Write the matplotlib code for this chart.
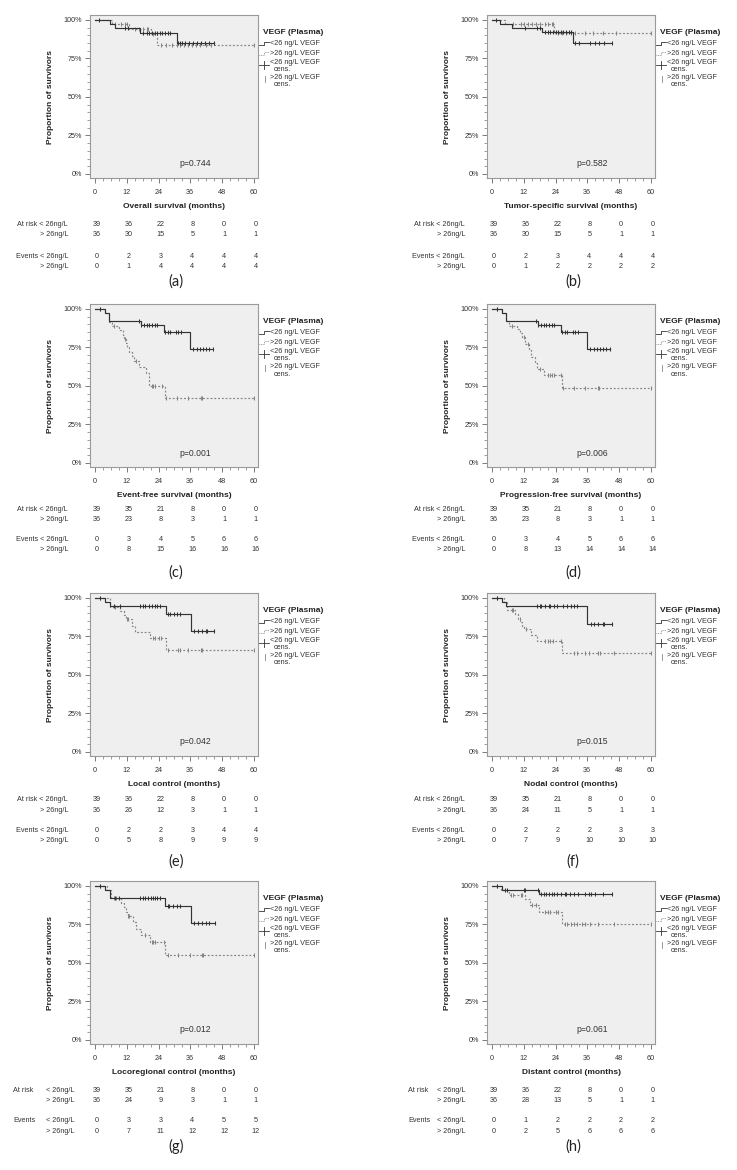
import numpy as np
import matplotlib
matplotlib.use("Agg")
import matplotlib.pyplot as plt
from matplotlib import transforms
from matplotlib.lines import Line2D
from matplotlib.ticker import MultipleLocator

plt.rcParams['font.family'] = ['Liberation Sans', 'DejaVu Sans']

# ---------------- data ----------------
months = [0, 12, 24, 36, 48, 60]
ytick_vals = [0, 25, 50, 75, 100]
ytick_labels = ['0%', '25%', '50%', '75%', '100%']

endpoints = ['Overall survival (months)', 'Tumor-specific survival (months)',
             'Event-free survival (months)', 'Progression-free survival (months)',
             'Local control (months)', 'Nodal control (months)',
             'Locoregional control (months)', 'Distant control (months)']
p_values = ['p=0.744', 'p=0.582', 'p=0.001', 'p=0.006', 'p=0.042', 'p=0.015', 'p=0.012', 'p=0.061']
panel_tags = ['(a)', '(b)', '(c)', '(d)', '(e)', '(f)', '(g)', '(h)']

# number at risk / cumulative events at 0,12,...,60 months
risk_lo = [[39, 36, 22, 8, 0, 0], [39, 36, 22, 8, 0, 0], [39, 35, 21, 8, 0, 0], [39, 35, 21, 8, 0, 0],
           [39, 36, 22, 8, 0, 0], [39, 35, 21, 8, 0, 0], [39, 35, 21, 8, 0, 0], [39, 36, 22, 8, 0, 0]]
risk_hi = [[36, 30, 15, 5, 1, 1], [36, 30, 15, 5, 1, 1], [36, 23, 8, 3, 1, 1], [36, 23, 8, 3, 1, 1],
           [36, 26, 12, 3, 1, 1], [36, 24, 11, 5, 1, 1], [36, 24, 9, 3, 1, 1], [36, 28, 13, 5, 1, 1]]
events_lo = [[0, 2, 3, 4, 4, 4], [0, 2, 3, 4, 4, 4], [0, 3, 4, 5, 6, 6], [0, 3, 4, 5, 6, 6],
             [0, 2, 2, 3, 4, 4], [0, 2, 2, 2, 3, 3], [0, 3, 3, 4, 5, 5], [0, 1, 2, 2, 2, 2]]
events_hi = [[0, 1, 4, 4, 4, 4], [0, 1, 2, 2, 2, 2], [0, 8, 15, 16, 16, 16], [0, 8, 13, 14, 14, 14],
             [0, 5, 8, 9, 9, 9], [0, 7, 9, 10, 10, 10], [0, 7, 11, 12, 12, 12], [0, 2, 5, 6, 6, 6]]

# (a) overall survival
a_lo_t = [5.7, 7.5, 17.0, 30.8]
a_lo_s = [97.4, 94.9, 91.8, 84.8]
a_lo_c = [1.6, 11.5, 12.5, 18, 19.5, 20.5, 21.5, 22.5, 23.5, 24.5, 25.5, 26.5, 27.5, 28.5,
          31.5, 32, 33, 34, 35.5, 37, 38.5, 40, 41.5, 43, 45]
a_hi_t = [6.5, 13.0, 21.0, 23.5]
a_hi_s = [97.2, 94.2, 90.9, 84.0]
a_hi_c = [7.5, 10, 11.5, 12, 15, 16.5, 18, 19.5, 20, 22, 25, 27, 29, 31, 32, 33.5, 35,
          36.5, 38, 39.5, 42, 44, 60]

# (b) tumor-specific survival
b_lo_t = [3.2, 7.6, 18.7, 30.6]
b_lo_s = [97.4, 94.9, 92.1, 85.0]
b_lo_c = [1.6, 12.5, 17, 18, 20, 21, 22, 23, 24, 25, 26, 27, 28, 29, 30, 31.3, 33, 37, 39,
          40.4, 42.3, 45.5]
b_hi_t = [5.0, 23.5]
b_hi_s = [97.2, 91.5]
b_hi_c = [8, 11, 12, 13.5, 15, 16.5, 18, 20, 21, 22.5, 23, 25, 26.5, 28, 30, 31.5, 35, 38,
          42, 47, 60]

# (c) event-free survival
c_lo_t = [3.9, 5.4, 17.3, 26.0, 36.0]
c_lo_s = [97.4, 92.3, 89.5, 84.8, 74.2]
c_lo_c = [1.8, 16.5, 17.5, 18.5, 19.5, 20.5, 21.5, 22.5, 23.5, 26.5, 27.5, 28.5, 30.5, 31.5,
          32.5, 37, 38.5, 39.5, 41, 42, 43, 44.5]
c_hi_t = [3.9, 5.4, 6.6, 9.2, 10.4, 11.0, 11.6, 12.2, 13.0, 13.8, 14.8, 16.7, 19.2, 20.5, 26.3]
c_hi_s = [97.2, 91.7, 88.9, 86.1, 83.3, 80.6, 77.8, 75.0, 72.2, 69.4, 66.3, 62.6, 58.7, 50.0, 42.5]
c_hi_c = [2, 7, 11.5, 15.5, 21.5, 22, 22.5, 25.5, 27, 31, 35, 40, 40.3, 60]

# (d) progression-free survival
d_lo_t = [3.9, 5.4, 17.3, 26.0, 36.0]
d_lo_s = [97.4, 92.3, 89.5, 84.8, 74.2]
d_lo_c = [1.8, 16.5, 17.5, 18.5, 19.5, 20.5, 21.5, 22.5, 23.5, 26.5, 27.5, 28.5, 30.5, 31.5,
          32.5, 37, 38.5, 39.5, 41, 42, 43, 44.5]
d_hi_t = [3.8, 5.3, 6.3, 9.5, 10.7, 11.4, 12.4, 13.9, 14.8, 16.4, 17.0, 19.6, 26.3]
d_hi_s = [97.2, 92.4, 89.2, 86.8, 84.2, 81.6, 77.1, 73.4, 69.1, 64.8, 61.1, 57.0, 48.6]
d_hi_c = [2, 7.5, 12, 13.5, 18, 21, 22, 22.5, 23.5, 26, 27, 31, 35, 40, 40.3, 60]

# (e) local control
e_lo_t = [3.9, 5.7, 26.7, 36.1]
e_lo_s = [97.4, 94.9, 89.8, 78.6]
e_lo_c = [1.8, 7, 9.5, 17, 18, 19, 20.5, 21.5, 22.5, 23.5, 24.5, 27.5, 28.5, 30, 31, 32,
          37.5, 39, 40.5, 42, 42.5, 45]
e_hi_t = [5.7, 9.4, 11.0, 11.7, 13.8, 15.0, 20.7, 26.7]
e_hi_s = [94.4, 91.7, 88.9, 86.1, 82.0, 78.2, 73.9, 66.3]
e_hi_c = [2, 7.5, 12, 12.5, 22, 22.5, 24, 25, 27.5, 31.5, 32, 35, 40, 40.3, 60]

# (f) nodal control
f_lo_t = [3.8, 5.4, 36.0]
f_lo_s = [97.4, 94.9, 82.9]
f_lo_c = [1.8, 17, 18, 18.5, 20, 21.5, 22, 23.5, 24.5, 27, 28.5, 30, 31, 32, 37.5, 38.5,
          40, 42, 42.5, 45.5]
f_hi_t = [4.4, 5.7, 8.8, 10.0, 10.7, 11.4, 12.0, 14.8, 17.0, 26.5]
f_hi_s = [97.2, 92.0, 89.4, 86.4, 84.2, 82.0, 79.8, 76.0, 72.0, 64.4]
f_hi_c = [2, 7.5, 8, 10.5, 13, 20, 21, 22, 23, 26, 31, 32, 35, 36.5, 40, 41, 46, 60]

# (g) locoregional control
g_lo_t = [3.9, 5.8, 26.3, 36.1]
g_lo_s = [97.4, 92.2, 87.2, 76.2]
g_lo_c = [1.8, 7.5, 9, 17, 18, 19, 20, 21, 22, 22.5, 23.5, 24.5, 27.5, 28, 29.5, 31, 32,
          37.5, 39, 40.5, 42, 43, 45.5]
g_hi_t = [4.5, 6.0, 10.0, 10.8, 11.7, 12.5, 14.3, 15.3, 17.4, 20.6, 26.5]
g_hi_s = [97.2, 92.2, 88.9, 86.1, 83.3, 80.3, 76.5, 72.3, 67.9, 63.5, 55.4]
g_hi_c = [2, 7, 8, 12.5, 13, 19, 21.5, 22, 22.5, 26, 27.5, 31.5, 36, 40.5, 40.7, 60]

# (h) distant control
h_lo_t = [3.8, 17.7]
h_lo_s = [97.4, 94.6]
h_lo_c = [1.8, 5, 5.5, 12, 12.5, 17.5, 18.5, 19.5, 20.5, 21.5, 22.5, 23.5, 24.5, 26, 27.5,
          28, 29.5, 31, 32.5, 35, 36.5, 37.5, 39, 42, 45.5]
h_hi_t = [3.4, 6.3, 12.5, 14.5, 17.7, 26.3]
h_hi_s = [97.2, 94.3, 91.2, 87.6, 83.0, 75.2]
h_hi_c = [1.8, 7, 8, 11, 11.5, 15, 16.5, 20, 21, 22, 24, 25, 27.5, 28.5, 30, 31, 32, 34,
          35, 37, 40, 46, 60]

curves = [
    (a_lo_t, a_lo_s, a_lo_c, a_hi_t, a_hi_s, a_hi_c),
    (b_lo_t, b_lo_s, b_lo_c, b_hi_t, b_hi_s, b_hi_c),
    (c_lo_t, c_lo_s, c_lo_c, c_hi_t, c_hi_s, c_hi_c),
    (d_lo_t, d_lo_s, d_lo_c, d_hi_t, d_hi_s, d_hi_c),
    (e_lo_t, e_lo_s, e_lo_c, e_hi_t, e_hi_s, e_hi_c),
    (f_lo_t, f_lo_s, f_lo_c, f_hi_t, f_hi_s, f_hi_c),
    (g_lo_t, g_lo_s, g_lo_c, g_hi_t, g_hi_s, g_hi_c),
    (h_lo_t, h_lo_s, h_lo_c, h_hi_t, h_hi_s, h_hi_c),
]

# ---------------- layout (pixels) ----------------
W, H = 737, 1170
AX_L, AX_T, AX_W, AX_H = 90, 15, 168, 163.3
col_off = [0, 397]
row_off = [0, 289, 578, 866]
# y offsets below the axes of: at-risk rows, event rows, panel tag
tab_rows = [[45.7, 55.7, 77.7, 87.7, 103.7],
            [42.6, 52.6, 72.6, 82.6, 105.0],
            [43.3, 54.0, 74.0, 84.3, 105.0],
            [46.0, 56.0, 76.7, 87.3, 102.0]]

LO_COL = '#333333'
HI_COL = '#858585'
TXT = '#333333'

fig = plt.figure(figsize=(W / 100, H / 100), dpi=100)
fig.patch.set_facecolor('white')


def fx(x):
    return x / W


def fy(y):
    return 1 - y / H


def ftext(x, y, s, **kw):
    fig.text(fx(x), fy(y), s, **kw)


def fline(xs, ys, **kw):
    fig.add_artist(Line2D([fx(v) for v in xs], [fy(v) for v in ys],
                          transform=fig.transFigure, **kw))


def draw_group(ax, t, s, c, color, ls):
    t = np.asarray(t, float)
    s_full = np.r_[100.0, s]
    end = max(c)
    tt = np.r_[0.0, t, end]
    ss = np.r_[s_full, s_full[-1]]
    ax.step(tt, ss, where='post', color=color, lw=0.85, linestyle=ls)
    cc = np.asarray(c, float)
    idx = np.searchsorted(t, cc, side='right')
    ax.plot(cc, s_full[idx], linestyle='none', marker='|', ms=3.4, mew=0.75, color=color)


for i in range(8):
    row, col = divmod(i, 2)
    L = AX_L + col_off[col]
    T = AX_T + row_off[row]
    B = T + AX_H
    ax = fig.add_axes([fx(L), fy(B), AX_W / W, AX_H / H])
    ax.set_facecolor('#efefef')

    lo_t, lo_s, lo_c, hi_t, hi_s, hi_c = curves[i]
    draw_group(ax, hi_t, hi_s, hi_c, HI_COL, (0, (1.6, 1.6)))
    draw_group(ax, lo_t, lo_s, lo_c, LO_COL, '-')

    ax.set_xlim(-1.9, 61.6)
    ax.set_ylim(-2.8, 103.2)
    ax.set_xticks(months)
    ax.set_yticks(ytick_vals)
    ax.set_yticklabels(ytick_labels)
    ax.xaxis.set_minor_locator(MultipleLocator(3))
    ax.yaxis.set_minor_locator(MultipleLocator(5))
    ax.tick_params(which='major', direction='out', length=3.5, width=0.6, color='#666666',
                   labelsize=5.2, labelcolor=TXT, pad=2)
    ax.tick_params(which='minor', direction='out', length=2, width=0.5, color='#777777')
    ax.tick_params(axis='x', which='major', pad=4)
    for sp in ax.spines.values():
        sp.set_color('#9a9a9a')
        sp.set_linewidth(0.8)

    ax.set_ylabel('Proportion of survivors', fontsize=6, fontweight='bold', color='#222222')
    ax.yaxis.set_label_coords(-35.7 / AX_W, 0.5)
    ftext(L + AX_W / 2, B + 28, endpoints[i], fontsize=6, fontweight='bold',
          color='#222222', ha='center', va='center')
    ftext(L + 105, T + 149, p_values[i], fontsize=6.2, color=TXT, ha='center', va='center')

    # legend
    ftext(L + 173, T + 17.7, 'VEGF (Plasma)', fontsize=6, fontweight='bold',
          color='#222222', ha='left', va='center')
    fline([L + 169, L + 174, L + 174, L + 178.5], [T + 29.5, T + 29.5, T + 26.5, T + 26.5],
          color=LO_COL, lw=0.6)
    ftext(L + 180, T + 28.3, '<26 ng/L VEGF', fontsize=5.2, color=TXT, va='center')
    fline([L + 169, L + 174, L + 174, L + 178.5], [T + 39.5, T + 39.5, T + 36.5, T + 36.5],
          color=HI_COL, lw=0.6, linestyle=(0, (1, 1)))
    ftext(L + 180, T + 38.3, '>26 ng/L VEGF', fontsize=5.2, color=TXT, va='center')
    fline([L + 169, L + 178.5], [T + 50, T + 50], color=LO_COL, lw=0.6)
    fline([L + 173.8, L + 173.8], [T + 46, T + 54], color=LO_COL, lw=0.6)
    ftext(L + 180, T + 47.3, '<26 ng/L VEGF', fontsize=5.2, color=TXT, va='center')
    ftext(L + 184, T + 54.3, 'cens.', fontsize=5.2, color=TXT, va='center')
    fline([L + 174.5, L + 174.5], [T + 61, T + 66.5], color=HI_COL, lw=0.6)
    ftext(L + 180, T + 62.7, '>26 ng/L VEGF', fontsize=5.2, color=TXT, va='center')
    ftext(L + 184, T + 70, 'cens.', fontsize=5.2, color=TXT, va='center')

    # risk table
    r1, r2, e1, e2, tag_y = tab_rows[row]
    if row < 3:
        ftext(L - 22, B + r1, 'At risk < 26ng/L', fontsize=5.2, color=TXT, ha='right', va='center')
        ftext(L - 22, B + r2, '> 26ng/L', fontsize=5.2, color=TXT, ha='right', va='center')
        ftext(L - 22, B + e1, 'Events < 26ng/L', fontsize=5.2, color=TXT, ha='right', va='center')
        ftext(L - 22, B + e2, '> 26ng/L', fontsize=5.2, color=TXT, ha='right', va='center')
    else:
        lx = L - 77 - 2 * col
        gx = L - 44 - 6 * col
        ftext(lx, B + r1, 'At risk', fontsize=5.2, color=TXT, ha='left', va='center')
        ftext(gx, B + r1, '< 26ng/L', fontsize=5.2, color=TXT, ha='left', va='center')
        ftext(gx, B + r2, '> 26ng/L', fontsize=5.2, color=TXT, ha='left', va='center')
        ftext(lx, B + e1, 'Events', fontsize=5.2, color=TXT, ha='left', va='center')
        ftext(gx, B + e1, '< 26ng/L', fontsize=5.2, color=TXT, ha='left', va='center')
        ftext(gx, B + e2, '> 26ng/L', fontsize=5.2, color=TXT, ha='left', va='center')

    tr = transforms.blended_transform_factory(ax.transData, fig.transFigure)
    for vals, off in [(risk_lo[i], r1), (risk_hi[i], r2), (events_lo[i], e1), (events_hi[i], e2)]:
        for m, v in zip(months, vals):
            ax.text(m + 0.8, fy(B + off), str(v), transform=tr, fontsize=5.2, color=TXT,
                    ha='center', va='center', clip_on=False)

    ftext(L + 86, B + tag_y, panel_tags[i], fontsize=10.5, color='#222222',
          ha='center', va='center', family=['Lato', 'DejaVu Sans'])

fig.savefig('out.png', dpi=100, facecolor='white')
